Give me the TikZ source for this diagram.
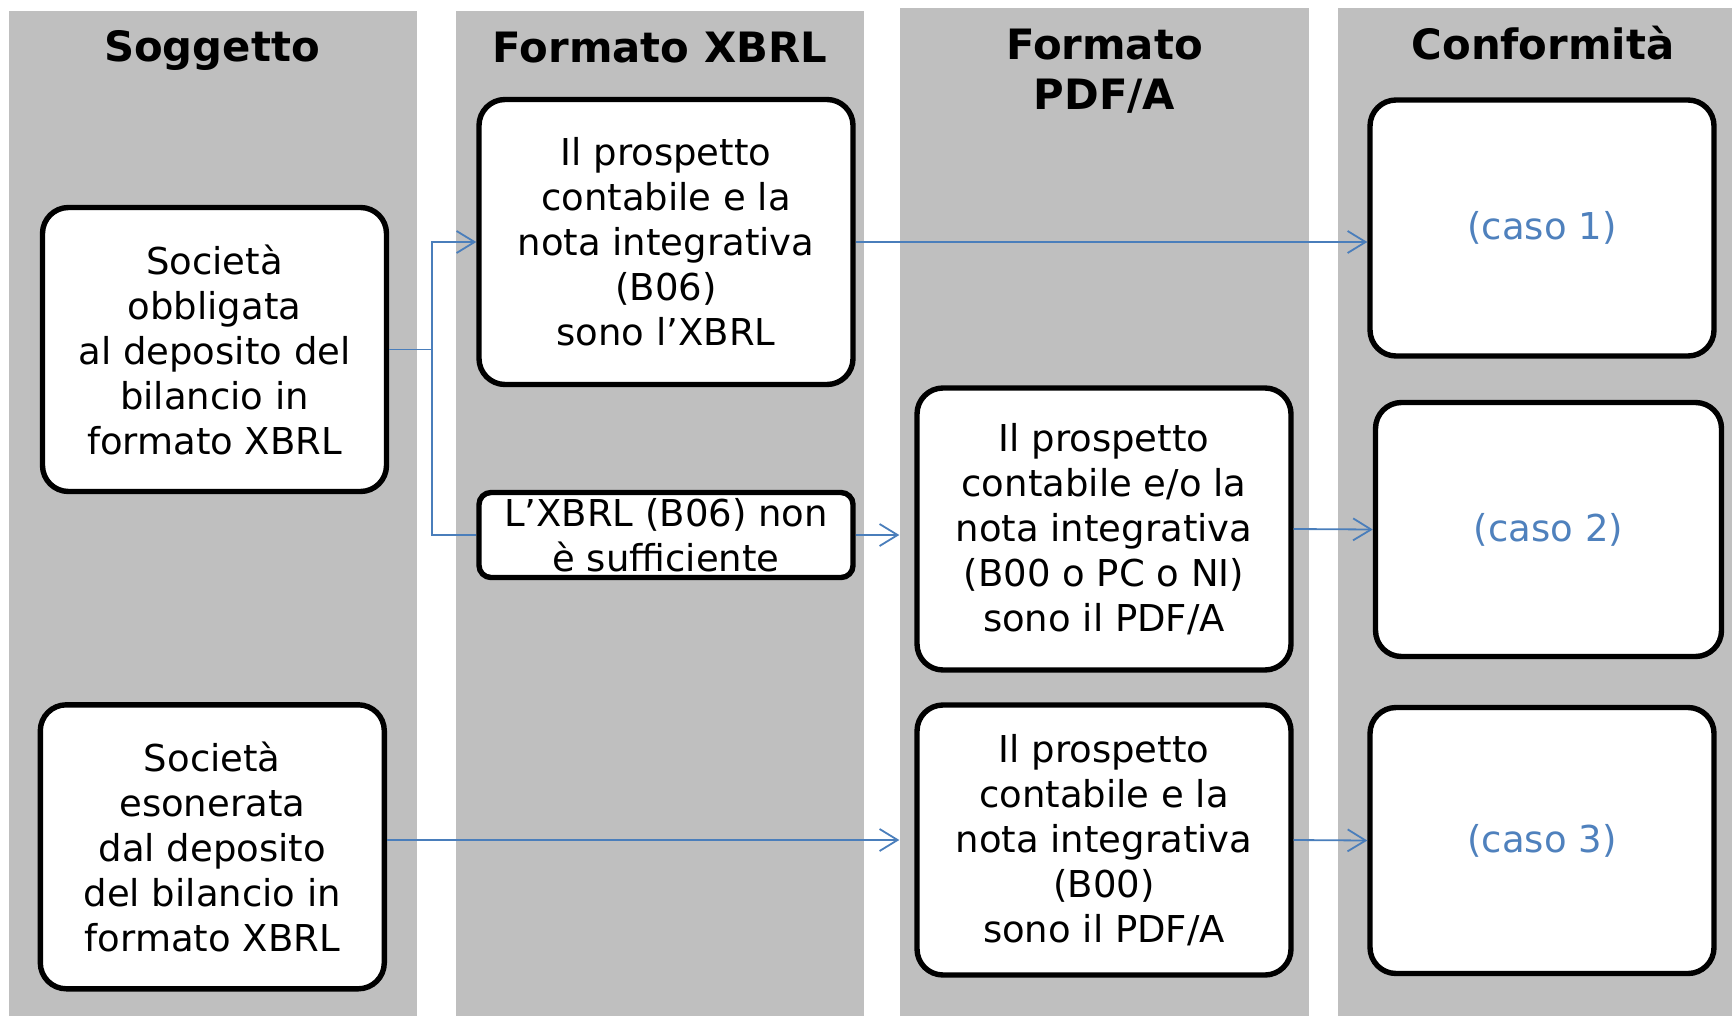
\documentclass[tikz,border=0pt]{standalone}
\usepackage{fontspec}
\setmainfont{DejaVu Sans}
\usetikzlibrary{arrows.meta}

\definecolor{lanegray}{HTML}{BFBFBF}
\definecolor{linkblue}{HTML}{4A7EBB}
\definecolor{casoblue}{HTML}{4F81BD}

\tikzset{
    lane/.style={fill=lanegray},
    head/.style={font=\bfseries\fontsize{20.9pt}{25pt}\selectfont, align=center, anchor=base, inner sep=0pt},
    card/.style={draw, line width=2.7pt, rounded corners=13pt, fill=white, align=center, inner sep=0pt,
        font=\fontsize{18.5pt}{22.5pt}\selectfont},
    caso/.style={card, text=casoblue},
    link/.style={draw=linkblue, line width=0.9pt},
    flow/.style={link, -{Straight Barb[length=9pt,width=11pt]}}
}

\begin{document}
\begin{tikzpicture}[x=0.5pt, y=-0.5pt]
                    \useasboundingbox (0,0) rectangle (1732,1016);

                    \foreach \cx/\cy/\cw in {8.8/11/408, 456/11/408, 900/7.7/409, 1338/7.7/394} {
                        \fill[lane] (\cx,\cy) rectangle (\cx+\cw,1016);
                    }

                    \node[head] (hsog) at (212,61.7) {Soggetto};
                    \node[head] (hxbrl) at (660,62.5) {Formato XBRL};
                    \node[head] (hpdf) at (1104.5,110) {Formato\\PDF/A};
                    \node[head] (hconf) at (1543,60) {Conformità};

                    \node[card, minimum width=172pt, minimum height=142pt] (obbl) at (214.5,349.5)
                        {Società\\obbligata\\al deposito del\\bilancio in\\formato XBRL};
                    \node[card, minimum width=172pt, minimum height=142pt] (eson) at (212.3,846.8)
                        {Società\\esonerata\\dal deposito\\del bilancio in\\formato XBRL};

                    \node[card, minimum width=187pt, minimum height=142.5pt] (xbrl) at (666,242)
                        {Il prospetto\\contabile e la\\nota integrativa\\(B06)\\sono l’XBRL};
                    \node[card, rounded corners=6pt, minimum width=187pt, minimum height=42.5pt] (nonsuff) at (666,535)
                        {L’XBRL (B06) non\\è sufficiente};

                    \node[card, minimum width=187pt, minimum height=141pt] (pdfa) at (1104,529)
                        {Il prospetto\\contabile e/o la\\nota integrativa\\(B00 o PC o NI)\\sono il PDF/A};
                    \node[card, minimum width=187pt, minimum height=135pt] (pdfb) at (1104,840)
                        {Il prospetto\\contabile e la\\nota integrativa\\(B00)\\sono il PDF/A};

                    \node[caso, minimum width=172pt, minimum height=128pt] (caso1) at (1542,228) {(caso 1)};
                    \node[caso, minimum width=173pt, minimum height=127pt] (caso2) at (1548.5,529.5) {(caso 2)};
                    \node[caso, minimum width=172pt, minimum height=133pt] (caso3) at (1542,840.5) {(caso 3)};

                    \coordinate (fork) at ([xshift=21.5pt]obbl.east);
                    \draw[link] (obbl.east) -- (fork);
                    \draw[flow] (fork) |- (xbrl.west);
                    \draw[link] (fork) |- (nonsuff.west);

                    \draw[flow] (xbrl.east) -- (xbrl.east -| caso1.west);
                    \draw[flow, shorten >=7.5pt] (nonsuff.east) -- (nonsuff.east -| pdfa.west);
                    \draw[flow] (pdfa.east) -- (caso2.west);

                    \draw[flow, shorten >=7.5pt] (pdfb.west -| eson.east) -- (pdfb.west);
                    \draw[flow] (pdfb.east) -- (caso3.west);
                \end{tikzpicture}
\end{document}
